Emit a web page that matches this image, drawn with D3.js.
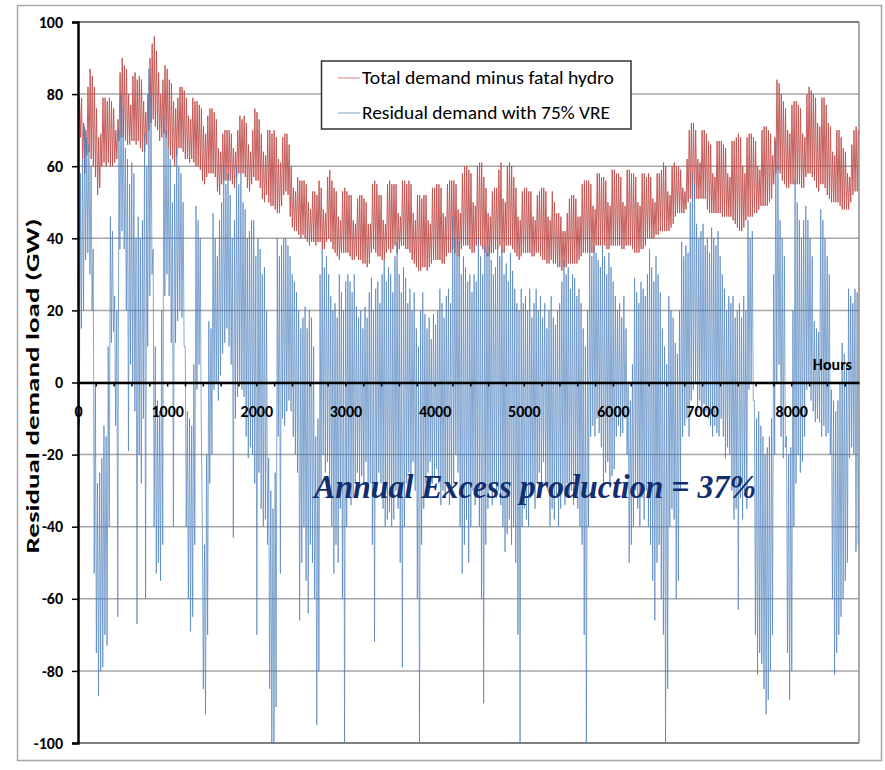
<!DOCTYPE html>
<html>
<meta charset="utf-8">
<head>
  <title>Residual demand load</title>
  <script src="https://d3js.org/d3.v7.min.js"></script>
  <style>
    body { margin: 0; background: #fff; }
    text { font-family: Carlito, Lato, "Open Sans", sans-serif; }
  </style>
</head>
<body>
<div id="my_dataviz"></div>
<script>

// daily peak / trough of each series (GW), one value per day of the year
// one row per week
var redPeak = [
  79,79,72,70,82,87,85, 82,76,68,69,79,79,78, 79,78,76,70,73,86,90, 88,87,80,77,85,86,84,
  85,84,78,75,80,90,94, 96,92,86,80,84,88,87, 84,83,78,76,79,82,82, 81,79,74,73,79,78,78,
  77,76,71,69,74,76,76, 75,73,65,64,69,70,70, 70,69,65,64,70,74,73, 74,72,66,64,70,76,75,
  73,69,64,63,70,70,69, 70,68,62,61,68,69,69, 66,60,54,53,57,56,56, 56,55,50,48,53,53,52,
  56,54,48,47,57,59,56, 54,53,46,45,53,54,53, 52,52,45,44,51,52,52, 51,50,44,44,55,56,55,
  52,52,45,44,55,56,55, 55,55,47,46,56,56,55, 56,55,47,45,52,52,51, 52,52,45,44,54,54,55,
  55,54,47,46,55,56,56, 56,55,48,47,58,60,60, 59,58,50,49,60,61,61, 57,54,47,46,53,54,54,
  59,61,51,50,60,61,60, 57,54,46,45,53,54,54, 53,53,46,45,52,53,54, 54,53,46,45,53,50,47,
  47,46,42,42,47,51,52, 52,51,46,46,55,56,56, 56,55,49,48,58,58,57, 57,56,50,49,59,59,58,
  58,57,50,49,59,59,58, 58,57,50,49,58,58,57, 58,57,51,50,58,58,59, 61,60,53,52,60,61,60,
  60,59,54,53,62,70,72, 72,70,62,61,70,70,69, 67,66,58,57,67,67,67, 66,65,58,57,67,67,68,
  69,68,60,58,68,69,69, 68,67,60,59,70,71,71, 70,69,63,68,84,83,80, 78,76,70,69,77,78,78,
  77,76,69,68,80,82,81, 80,79,72,71,79,79,77, 72,71,64,63,70,70,68, 65,64,58,57,66,70,71,
  70
];
var redTrough = [
  70,68,62,58,63,64,62, 60,57,52,54,60,61,60, 61,60,60,61,62,67,68, 68,67,66,66,67,67,66,
  67,65,64,64,66,70,72, 73,71,70,67,68,69,68, 65,63,62,60,63,65,65, 64,62,62,61,62,61,60,
  60,59,56,55,57,58,58, 58,57,53,52,55,56,56, 56,56,55,54,57,58,58, 58,57,54,53,55,57,56,
  56,54,51,50,52,50,49, 49,48,47,47,49,52,53, 52,46,43,42,42,41,40, 41,40,39,38,39,39,38,
  39,39,37,37,39,40,39, 37,36,35,34,36,36,36, 36,35,34,34,35,34,34, 33,33,32,33,36,37,36,
  35,35,34,34,36,37,36, 37,38,36,37,38,38,37, 37,36,34,33,32,31,31, 32,32,31,32,33,34,34,
  34,34,33,33,35,36,36, 37,36,35,35,37,38,38, 38,37,36,36,38,38,38, 37,36,35,35,36,36,37,
  37,38,36,36,38,38,38, 37,36,35,34,35,36,36, 36,36,35,35,36,36,35, 34,34,33,33,34,33,33,
  32,32,31,32,32,33,33, 33,33,33,34,35,36,36, 36,36,36,36,38,38,38, 38,38,37,37,38,38,38,
  38,38,37,37,38,38,38, 37,36,36,36,37,37,38, 40,40,40,40,41,41,42, 42,42,42,42,43,44,46,
  47,47,47,47,48,50,51, 51,51,51,51,51,51,51, 48,47,47,47,47,47,47, 46,46,46,46,46,45,44,
  43,42,42,43,45,46,46, 46,47,47,48,49,49,49, 49,50,51,55,58,59,58, 56,55,54,54,55,55,55,
  55,55,54,54,57,58,58, 57,56,54,53,55,55,54, 52,51,50,50,50,50,49, 48,48,48,48,50,52,53,
  53
];
var bluePeak = [
  55,58,62,71,68,66,60, 37,0,-28,-25,-21,-12,-15, 10,46,42,24,20,70,80, 76,65,62,55,61,58,40,
  46,40,45,69,60,87,80, 37,10,-5,-8,20,74,70, 65,62,50,55,65,60,58, 50,10,-8,-10,-12,5,49,
  45,40,-40,-45,-20,17,15, 47,40,35,45,50,60,55, 58,52,40,45,60,55,58, 50,48,40,42,45,45,35,
  40,37,30,32,20,-21,-30, -35,-25,40,35,38,40,40, 38,35,30,28,25,20,15, 18,21,15,20,18,10,-15,
  -10,30,37,32,35,30,24, 20,22,18,30,25,20,28, 30,28,25,30,21,18,20, 15,21,18,25,29,20,26,
  28,22,30,34,28,32,30, 25,35,39,30,25,32,29, 22,26,20,25,15,10,20, 25,19,15,18,12,19,16,
  20,26,22,18,24,26,22, 46,40,35,39,30,35,32, 28,30,25,30,28,40,35, 30,38,36,38,34,30,32,
  38,35,37,30,33,28,36, 31,26,22,20,26,22,24, 20,26,18,22,26,20,24, 18,22,15,20,24,18,16,
  20,22,28,34,30,32,26, 30,29,24,26,22,15,10, 20,39,35,38,36,34,32, 38,35,30,36,32,28,24,
  20,22,18,24,15,0,-5, 5,29,25,22,28,26,24, 30,37,32,28,35,30,25, 15,10,5,24,20,18,11,
  8,20,39,35,38,36,50, 58,55,44,40,42,44,38, 40,36,43,40,38,42,35, 30,26,20,24,22,24,18,
  20,22,18,24,20,45,40, 42,-5,-10,-8,-12,-15,-20, -18,-15,-10,30,67,60,45, 40,35,-15,-20,-18,20,56,
  50,45,40,45,49,45,40, 35,17,15,14,48,45,40, 35,30,-2,-5,-8,-5,0, 11,8,5,26,24,22,26,
  25
];
var blueTrough = [
  -12,15,20,34,36,30,20, -53,-75,-87,-80,-79,-70,-73, -40,11,14,-12,-65,37,42, 37,20,-19,5,0,-8,-67,
  -20,-28,-10,-60,10,24,30, -40,-53,-50,-55,-45,24,30, 24,11,-40,11,17,20,18, 10,-40,-60,-69,-65,-45,-2,
  5,-10,-85,-92,-70,-28,-20, -2,0,-5,2,8,11,15, 10,5,-43,-10,-4,0,-2, -4,-15,-21,-18,-20,-28,-70,
  -25,-35,-40,-38,-45,-85,-100, -100,-90,-15,-53,-10,-12,-8, -5,-8,-15,-20,-25,-66,-50, -40,-55,-64,-45,-50,-60,-95,
  -80,-28,-20,-25,-22,-28,-40, -53,-45,-50,-35,-60,-100,-40, -30,-34,-32,-28,-25,-28,-26, -28,-22,-30,-28,-45,-72,-30,
  -25,-28,-35,-40,-38,-36,-40, -38,-30,-35,-50,-79,-40,-28, -25,-28,-22,-30,-60,-100,-45, -35,-28,-25,-22,-28,-26,-24,
  -28,-34,-30,-32,-28,-34,-30, -28,-20,-25,-40,-53,-45,-38, -50,-40,-30,-34,-32,-40,-60, -89,-45,-35,-30,-34,-28,-32,
  -30,-34,-40,-47,-42,-38,-45, -40,-50,-70,-100,-40,-35,-38, -40,-32,-30,-35,-28,-25,-28, -22,-28,-30,-40,-35,-38,-32,
  -40,-35,-30,-34,-28,-32,-30, -34,-30,-35,-40,-45,-70,-100, -40,-15,-12,-15,-10,-14,-18, -28,-25,-22,-28,-26,-24,-15,
  -12,-15,-14,-10,-20,-50,-45, -40,-30,-35,-40,-32,-38,-30, -40,-45,-55,-66,-50,-45,-60, -70,-100,-85,-40,-35,-38,-60,
  -55,-30,-15,-12,-10,-15,-5, -2,0,-8,-5,-8,-6,-8, -10,-12,-15,-12,-14,-15,-10, -15,-21,-18,-20,-30,-38,-35,
  -63,-32,-38,-30,-35,-2,0, -5,-70,-81,-75,-78,-85,-92, -88,-80,-70,-20,0,5,-15, -21,-18,-75,-88,-80,-40,-28,
  -20,-25,-22,-15,-2,0,-5, -8,-11,-10,-11,-15,-12,-15, -14,-20,-60,-81,-75,-70,-65, -60,-55,-50,-21,-18,-20,-47,
  -45
];

var yTicks = d3.range(-100, 101, 20);
var xTicks = d3.range(0, 8001, 1000);
var xMinorTicks = d3.range(0, 8761, 200);
var seriesNames = ["Total demand minus fatal hydro", "Residual demand with 75% VRE"];
var seriesColors = ["#C0504D", "#4A7EBB"];

var W = 885, H = 770;
var margin = {top: 22, right: 26, bottom: 27, left: 78};

var svg = d3.select("#my_dataviz").append("svg")
    .attr("width", W)
    .attr("height", H);

// chart area frame
svg.append("rect")
    .attr("x", 17.5).attr("y", 5.5)
    .attr("width", 864).attr("height", 755)
    .attr("fill", "#fff")
    .attr("stroke", "#A6A6A6")
    .attr("stroke-width", 1.5);

var x = d3.scaleLinear().domain([0, 8760]).range([margin.left, W - margin.right]);
var y = d3.scaleLinear().domain([-100, 100]).range([H - margin.bottom, margin.top]);

// gridlines
svg.append("g")
  .selectAll("line")
  .data(yTicks)
  .enter().append("line")
    .attr("x1", x(0)).attr("x2", x(8760))
    .attr("y1", function(d) { return y(d); })
    .attr("y2", function(d) { return y(d); })
    .attr("stroke", function(d) { return Math.abs(d) == 100 ? "#808080" : "#A6A6A6"; })
    .attr("stroke-width", function(d) { return Math.abs(d) == 100 ? 2 : 1.5; });

// right border of plot area
svg.append("line")
    .attr("x1", x(8760)).attr("x2", x(8760))
    .attr("y1", y(100)).attr("y2", y(-100))
    .attr("stroke", "#8C8C8C").attr("stroke-width", 1.5);

// turn the daily peaks / troughs into points along the hour axis
function dailyPoints(peaks, troughs, peakHour, troughHour) {
  var pts = [];
  peaks.forEach(function(p, d) {
    var a = {h: d * 24 + troughHour, v: troughs[d]};
    var b = {h: d * 24 + peakHour, v: p};
    if (troughHour < peakHour) pts.push(a, b); else pts.push(b, a);
  });
  return pts;
}

var line = d3.line()
    .x(function(d) { return x(d.h); })
    .y(function(d) { return y(d.v); });

svg.append("defs").append("clipPath").attr("id", "plotclip")
  .append("rect")
    .attr("x", x(0)).attr("y", y(100))
    .attr("width", x(8760) - x(0)).attr("height", y(-100) - y(100));

var plot = svg.append("g").attr("clip-path", "url(#plotclip)");

plot.append("path")
    .datum(dailyPoints(redPeak, redTrough, 16, 4))
    .attr("d", line)
    .attr("fill", "none")
    .attr("stroke", seriesColors[0])
    .attr("stroke-opacity", 0.9)
    .attr("stroke-width", 1);

plot.append("path")
    .datum(dailyPoints(bluePeak, blueTrough, 3, 14))
    .attr("d", line)
    .attr("fill", "none")
    .attr("stroke", seriesColors[1])
    .attr("stroke-opacity", 0.85)
    .attr("stroke-width", 0.8);

// plain hyphen for negatives, like the original
var plainNum = function(d) { return String(d); };

// y axis
var yAxis = svg.append("g")
    .attr("transform", "translate(" + x(0) + ",0)")
    .call(d3.axisLeft(y).tickValues(yTicks).tickFormat(plainNum).tickSize(6).tickPadding(9));
yAxis.select(".domain").attr("stroke", "#000").attr("stroke-width", 2.5);
yAxis.selectAll(".tick line").attr("stroke", "#000").attr("stroke-width", 1.5);
yAxis.selectAll(".tick text")
    .attr("fill", "#000")
    .style("font-size", "16px")
    .style("font-weight", "bold")
    .style("font-family", "Carlito, Lato, sans-serif");

// x axis along zero
var xMinor = svg.append("g")
    .attr("transform", "translate(0," + y(0) + ")")
    .call(d3.axisBottom(x).tickValues(xMinorTicks).tickSize(4).tickFormat(""));
xMinor.select(".domain").remove();
xMinor.selectAll(".tick line").attr("stroke", "#000").attr("stroke-width", 1.5);

var xAxis = svg.append("g")
    .attr("transform", "translate(0," + y(0) + ")")
    .call(d3.axisBottom(x).tickValues(xTicks).tickFormat(plainNum)
      .tickSize(0).tickPadding(23).tickSizeOuter(0));
xAxis.select(".domain").attr("stroke", "#000").attr("stroke-width", 2.5);
xAxis.selectAll(".tick text")
    .attr("fill", "#000")
    .style("font-size", "16px")
    .style("font-weight", "bold")
    .style("font-family", "Carlito, Lato, sans-serif");

svg.append("text")
    .attr("x", 852).attr("y", 370)
    .attr("text-anchor", "end")
    .style("font-size", "16px")
    .style("font-weight", "bold")
    .text("Hours");

// y title
svg.append("text")
    .attr("transform", "translate(39,386) rotate(-90)")
    .attr("text-anchor", "middle")
    .attr("textLength", 335)
    .attr("lengthAdjust", "spacingAndGlyphs")
    .style("font-size", "18px")
    .style("font-weight", "bold")
    .text("Residual demand load (GW)");

// legend
var legend = svg.append("g");
legend.append("rect")
    .attr("x", 321.5).attr("y", 61)
    .attr("width", 309.5).attr("height", 68)
    .attr("fill", "#fff")
    .attr("stroke", "#333")
    .attr("stroke-width", 1.5);
seriesNames.forEach(function(name, i) {
  var ly = 78 + i * 35;
  legend.append("line")
      .attr("x1", 338).attr("x2", 360)
      .attr("y1", ly).attr("y2", ly)
      .attr("stroke", seriesColors[i])
      .attr("stroke-opacity", 0.7)
      .attr("stroke-width", 1);
  legend.append("text")
      .attr("x", 362).attr("y", ly + 6)
      .attr("textLength", i == 0 ? 252 : 248)
      .attr("lengthAdjust", "spacingAndGlyphs")
      .style("font-size", "18px")
      .style("font-weight", 500)
      .text(name);
});

// annotation
svg.append("text")
    .attr("x", 314).attr("y", 498)
    .attr("textLength", 442)
    .attr("lengthAdjust", "spacingAndGlyphs")
    .style("font-family", "'Liberation Serif', 'DejaVu Serif', serif")
    .style("font-size", "33px")
    .style("font-weight", "bold")
    .style("font-style", "italic")
    .attr("fill", "#132E6E")
    .text("Annual Excess production = 37%");

</script>
</body>
</html>
